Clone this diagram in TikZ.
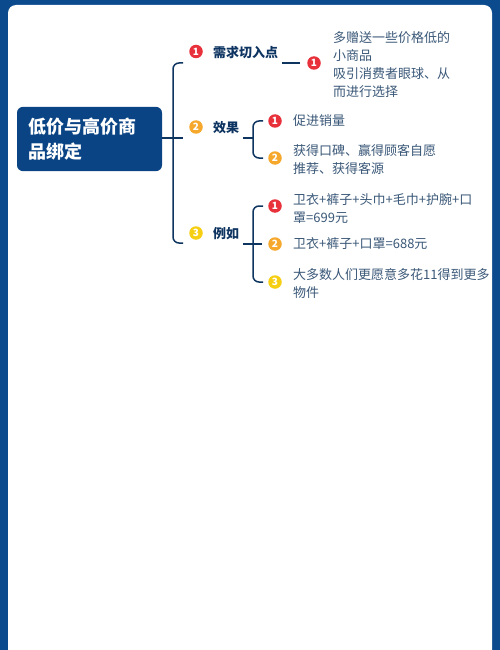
\documentclass[tikz,border=0pt]{standalone}
\usepackage{fontspec}
\setmainfont{Noto Sans CJK SC}
\usepackage{tikz}
\usetikzlibrary{calc}
\definecolor{frameblue}{HTML}{0B4A8C}
\definecolor{rootblue}{HTML}{0A4484}
\definecolor{linenavy}{HTML}{0D3560}
\definecolor{labelnavy}{HTML}{0E3461}
\definecolor{leafgrey}{HTML}{3A5878}
\definecolor{badgered}{HTML}{E8313B}
\definecolor{badgeorange}{HTML}{F5A82C}
\definecolor{badgeyellow}{HTML}{F6CF12}

\begin{document}
\begin{tikzpicture}[x=1pt, y=-1pt,
  conn/.style={draw=linenavy, line width=1.5pt},
  brace/.style={conn, rounded corners=6pt},
  badge/.style={circle, fill=#1, text=white, inner sep=0pt, minimum size=13.5pt,
    font=\fontsize{10}{10}\selectfont\bfseries},
  topic/.style={anchor=west, inner sep=0pt, text=labelnavy,
    font=\fontsize{13}{18}\selectfont\bfseries},
  leaf/.style={anchor=west, inner sep=0pt, align=left, text=leafgrey,
    font=\fontsize{13}{18}\selectfont},
]
\useasboundingbox (0,0) rectangle (500,650);
\fill[frameblue] (0,0) rectangle (500,650);
\fill[white, rounded corners=8pt] (8,5) rectangle (492,670);

\node (root) at (89.5,139) [rectangle, rounded corners=6pt, fill=rootblue, text=white,
  minimum width=145pt, minimum height=58pt, text width=123pt, inner sep=11pt,
  align=left, font=\fontsize{18}{25}\selectfont\bfseries] {低价与高价商\\品绑定};

% first level
\node (b1) at (196,51.5) [badge=badgered] {1};
\node (t1) at (213,53) [topic] {需求切入点};
\node (b2) at (196,127) [badge=badgeorange] {2};
\node (t2) at (213,128) [topic] {效果};
\node (b3) at (196,233) [badge=badgeyellow] {3};
\node (t3) at (213,234) [topic] {例如};

\coordinate (r0) at (183,138);
\coordinate (r1) at (183,63);
\coordinate (r3) at (183,243);
\draw [conn] (root.east |- r0)--(r0);
\draw [brace] (r1)--(173,63)--(173,243)--(r3);

% 需求切入点
\coordinate (u1) at (282,63);
\coordinate (v1) at (300,63);
\node (b11) at (314,63) [badge=badgered] {1};
\node (l11) at (333,65) [leaf] {多赠送一些价格低的\\小商品\\吸引消费者眼球、从\\而进行选择};
\draw [conn] (u1)--(v1);

% 效果
\coordinate (u2) at (243,138);
\coordinate (m2) at (253,138);
\node (b21) at (275,121) [badge=badgered] {1};
\node (l21) at (293,121) [leaf] {促进销量};
\node (b22) at (275,158) [badge=badgeorange] {2};
\node (l22) at (293,160) [leaf] {获得口碑、赢得顾客自愿\\推荐、获得客源};
\draw [conn] (u2)--(m2);
\draw [brace] (263,121)--(253,121)--(253,158)--(263,158);

% 例如
\coordinate (u3) at (243,244);
\coordinate (m3) at (262,244);
\node (b31) at (275,206) [badge=badgered] {1};
\node (l31) at (293,208) [leaf] {卫衣+裤子+头巾+毛巾+护腕+口\\罩=699元};
\node (b32) at (275,244) [badge=badgeorange] {2};
\node (l32) at (293,244) [leaf] {卫衣+裤子+口罩=688元};
\node (b33) at (275,282) [badge=badgeyellow] {3};
\node (l33) at (293,283) [leaf] {大多数人们更愿意多花11得到更多\\物件};
\draw [conn] (u3)--(m3);
\draw [brace] (263,206)--(253,206)--(253,282)--(263,282);
\end{tikzpicture}
\end{document}
